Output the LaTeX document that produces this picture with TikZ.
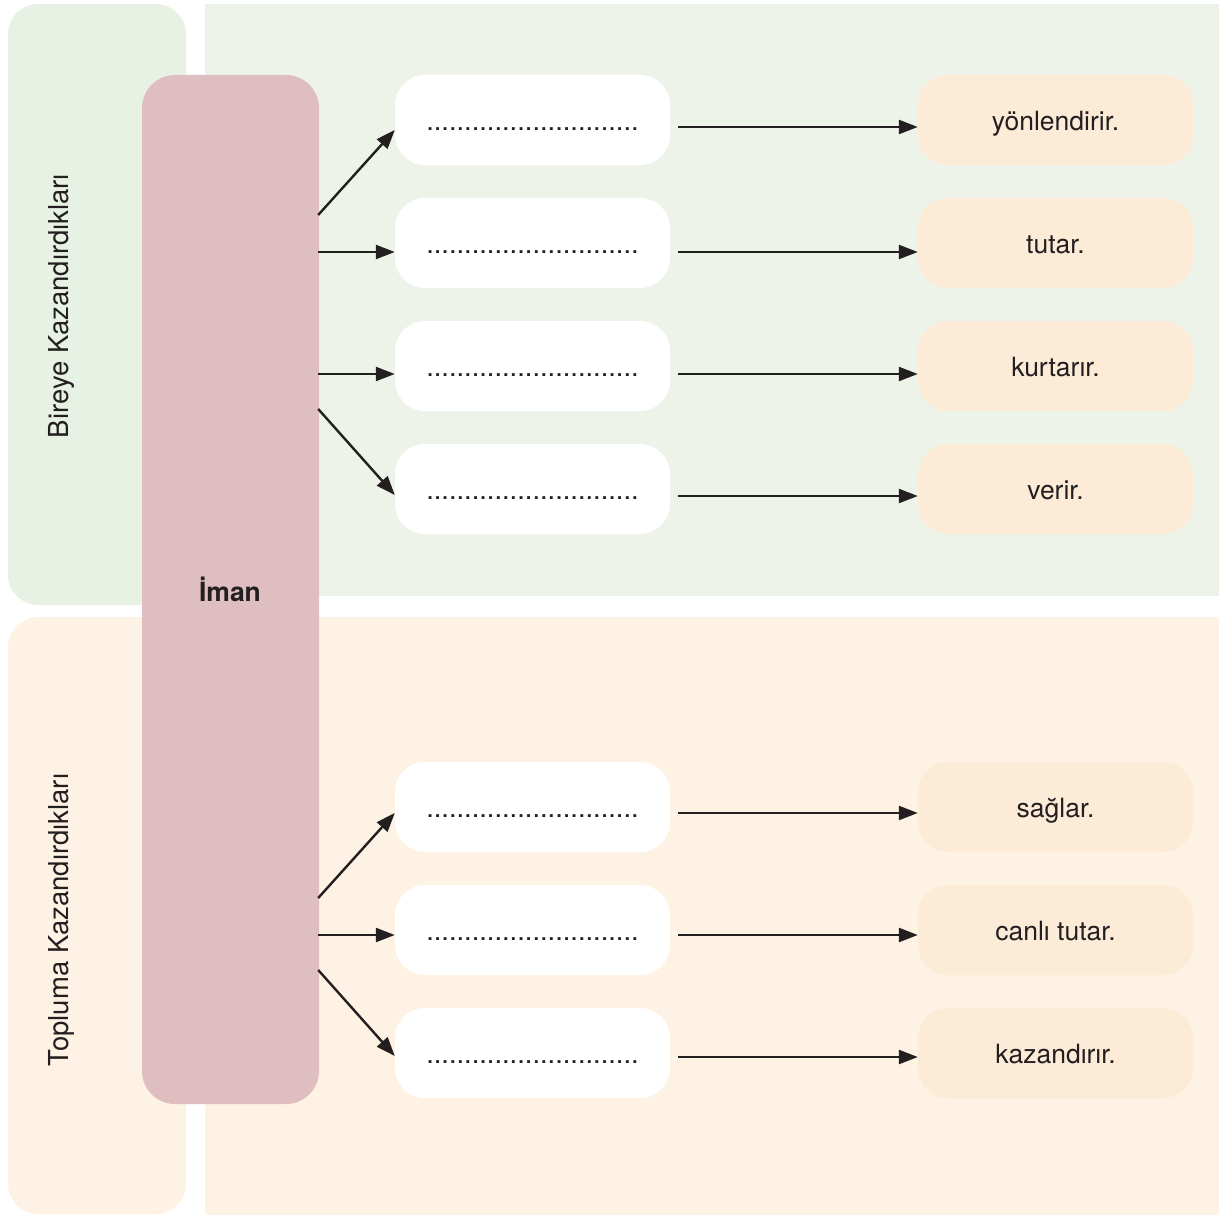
\documentclass[tikz,border=0pt]{standalone}
\usepackage{fontspec}
\setmainfont{TeX Gyre Heros}
\usetikzlibrary{arrows.meta,calc}
\definecolor{greenL}{HTML}{E7F2E4}
\definecolor{greenR}{HTML}{EEF3EA}
\definecolor{cream}{HTML}{FDF2E3}
\definecolor{peach}{HTML}{FBEBD7}
\definecolor{rose}{HTML}{DFBEC2}
\definecolor{ink}{HTML}{231F20}
\tikzset{
  txt/.style={font=\fontsize{26.5}{30}\selectfont, text=ink},
  blank/.style={txt, fill=white, rounded corners=30pt, minimum width=275pt, minimum height=90pt, inner sep=0pt, text height=20pt, text depth=0pt},
  result/.style={blank, fill=peach},
  sidelabel/.style={font=\fontsize{27.5}{30}\selectfont, text=ink, rotate=90, anchor=base, inner sep=0pt},
  arr/.style={draw=ink, line width=2.4pt, -{Triangle[length=19pt,width=14pt]}}
}
\newcommand{\dotline}{{\fontsize{27.3}{30}\selectfont ............................}}
\begin{document}
\begin{tikzpicture}[x=1pt,y=-1pt]
\useasboundingbox (0,0) rectangle (1219,1215);
% panels
\fill[greenL, rounded corners=30pt] (8,4) rectangle (186,605);
\fill[greenR] (205,4) rectangle (1219,596);
\fill[cream, rounded corners=30pt] (8,617) rectangle (186,1214);
\fill[cream] (205,617) rectangle (1219,1215);
\node[sidelabel] (lb1) at (68,306) {Bireye Kazandırdıkları};
\node[sidelabel] (lb2) at (68,920) {Topluma Kazandırdıkları};
% iman
\node[fill=rose, rounded corners=33pt, minimum width=177pt, minimum height=1029pt, inner sep=0pt] (iman) at (230.5,589.5) {};
\node[txt, font=\fontsize{26.5}{30}\selectfont\bfseries] (imantxt) at (230,589) {İman};
% blanks and results
\foreach \i/\y/\t/\o in {1/120/yönlendirir./7, 2/243/tutar./9, 3/366/kurtarır./8, 4/489/verir./7, 5/807/sağlar./6, 6/930/canlı tutar./5, 7/1053/kazandırır./4}{
  \node[blank] (w\i) at (532.5,\y) {\dotline};
  \node[result] (r\i) at (1055.5,\y) {\t};
  \draw[arr] ($(w\i.east)+(8,\o)$) -- ($(r\i.west)+(0,\o)$);
}
% arrows from iman
\draw[arr] ($(iman.east |- w2.center)+(-1,-28)$) -- ($(w1.west)+(0,10)$);
\draw[arr] ($(iman.east |- w2.center)+(-1,9)$) -- ($(w2.west)+(0,9)$);
\draw[arr] ($(iman.east |- w3.center)+(-1,8)$) -- ($(w3.west)+(0,8)$);
\draw[arr] ($(iman.east |- w3.center)+(-1,43)$) -- ($(w4.west)+(0,6)$);
\draw[arr] ($(iman.east |- w6.center)+(-1,-32)$) -- ($(w5.west)+(0,6)$);
\draw[arr] ($(iman.east |- w6.center)+(-1,5)$) -- ($(w6.west)+(0,5)$);
\draw[arr] ($(iman.east |- w6.center)+(-1,40)$) -- ($(w7.west)+(0,3)$);
\end{tikzpicture}
\end{document}
